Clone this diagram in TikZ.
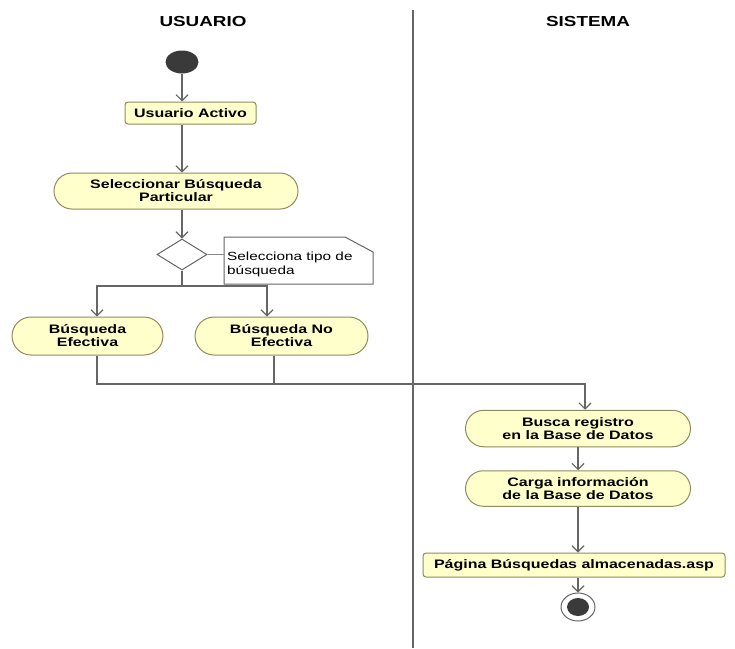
\documentclass[tikz,border=0pt]{standalone}
\usepackage{fontspec}
\setmainfont{Liberation Sans}
\newfontfamily\widefont[FakeStretch=1.3]{Liberation Sans}
\usetikzlibrary{arrows.meta,shapes.misc,shapes.geometric}
\definecolor{actfill}{HTML}{FFFFCC}
\definecolor{actdraw}{HTML}{8C8C60}
\definecolor{linec}{HTML}{666666}
\definecolor{dotc}{HTML}{3A3A3A}
\begin{document}
\begin{tikzpicture}[x=1pt,y=-1pt,
  actfont/.style={font=\widefont\bfseries\fontsize{12.3}{13}\selectfont},
  act/.style={rounded rectangle, draw=actdraw, fill=actfill, line width=1pt,
    actfont, align=center, inner sep=0pt},
  actbox/.style={rectangle, rounded corners=3pt, draw=actdraw, fill=actfill,
    line width=1pt, actfont, align=center, inner sep=0pt},
  conn/.style={draw=linec, line width=1.2pt},
  arr/.style={conn, -{Straight Barb[length=6pt,width=12pt,line width=1.1pt]}},
  lane/.style={font=\widefont\bfseries\fontsize{14.5}{16}\selectfont, inner sep=0pt}]
\useasboundingbox (0,0) rectangle (735,648);

% swimlanes
\node[lane] (usr) at (203,22) {USUARIO};
\node[lane] (sis) at (588,22) {SISTEMA};
\coordinate (divtop) at (413,10);
\coordinate (divbot) at (413,648);
\draw[draw=linec, line width=1.3pt] (divtop) -- (divbot);

% initial node
\node[ellipse, fill=dotc, minimum width=33pt, minimum height=23pt, inner sep=0pt] (start) at (182,62) {};

% activities
\node[actbox, minimum width=131pt, minimum height=22pt] (activo) at (190.5,113) {Usuario Activo};
\node[act, minimum width=244pt, minimum height=36pt] (selec) at (176,191) {Seleccionar B\'usqueda\\Particular};
\node[diamond, draw=linec, fill=white, line width=1pt, minimum width=50pt, minimum height=31pt, inner sep=0pt] (dec) at (182,254.5) {};
\node[act, minimum width=151pt, minimum height=38pt] (efec) at (87.5,336) {B\'usqueda\\Efectiva};
\node[act, minimum width=173pt, minimum height=38pt] (noefec) at (281.5,336) {B\'usqueda No\\Efectiva};
\node[act, minimum width=225pt, minimum height=36.5pt] (busca) at (578,428.5) {Busca registro\\en la Base de Datos};
\node[act, minimum width=225pt, minimum height=35.5pt] (carga) at (578,488.5) {Carga informaci\'on\\de la Base de Datos};
\node[actbox, minimum width=302pt, minimum height=24pt] (pagina) at (574,565) {P\'agina B\'usquedas almacenadas.asp};

% final node
\node[ellipse, draw=linec, fill=white, line width=1pt, minimum width=34pt, minimum height=28pt, inner sep=0pt] (fin) at (578,607) {};
\node[ellipse, fill=dotc, minimum width=22pt, minimum height=18pt, inner sep=0pt] (fininner) at (578,607) {};

% note
\coordinate (nA) at (224,237);
\coordinate (nB) at (345,237);
\coordinate (nC) at (373,252);
\coordinate (nD) at (373,284);
\coordinate (nE) at (224,284);
\draw[draw=linec, fill=white, line width=1pt] (nA) -- (nB) -- (nC) -- (nD) -- (nE) -- cycle;
\node[anchor=north west, align=left, inner sep=0pt, font=\widefont\fontsize{11.8}{14}\selectfont] (note) at (227,252) {Selecciona tipo de\\b\'usqueda};
\draw[conn, draw=linec!80, line width=1pt] (dec.east) -- (nA |- dec.east);

% flows
\draw[arr] (start.south) -- (start.south |- activo.north);
\draw[arr] (activo.south -| start) -- (selec.north -| start);
\draw[arr] (selec.south -| start) -- (dec.north);
\coordinate (split) at (182,286);
\coordinate (splitL) at (97,286);
\coordinate (splitR) at (267,286);
\draw[conn] (dec.south) -- (split);
\draw[arr] (split) -- (splitL) -- (splitL |- efec.north);
\draw[arr] (split) -- (splitR) -- (splitR |- noefec.north);
\coordinate (mergeL) at (97,384);
\coordinate (mergeM) at (274,384);
\coordinate (mergeR) at (585,384);
\draw[conn] (efec.south -| mergeL) -- (mergeL) -- (mergeM);
\draw[conn] (noefec.south -| mergeM) -- (mergeM);
\draw[arr] (mergeM) -- (mergeR) -- (mergeR |- busca.north);
\draw[arr] (busca.south) -- (carga.north);
\draw[arr] (carga.south) -- (carga.south |- pagina.north);
\draw[arr] (pagina.south -| fin) -- (fin.north);
\end{tikzpicture}
\end{document}
